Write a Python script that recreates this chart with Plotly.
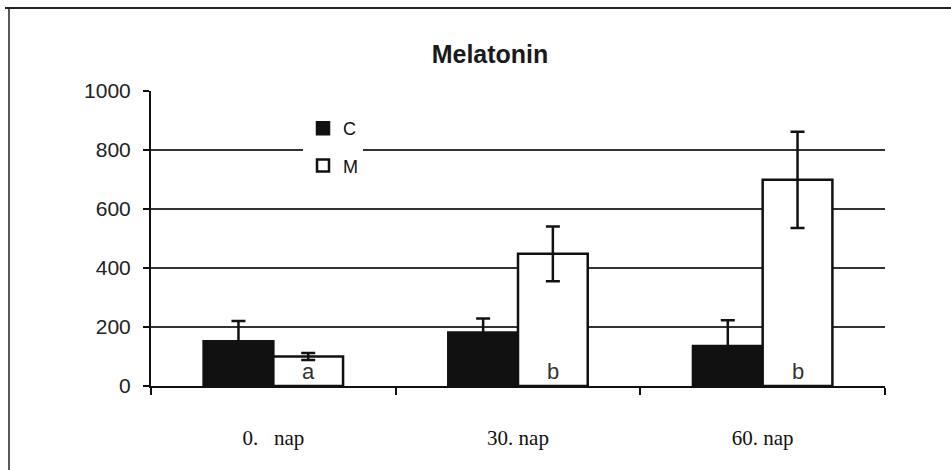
import plotly.graph_objects as go

# Melatonin levels by day, control (C) vs. treated (M)
days = ["0.\u00a0\u00a0\u00a0nap", "30. nap", "60. nap"]
c_values = [152, 181, 136]
c_errors = [68, 48, 87]
m_values = [100, 448, 699]
m_errors = [12, 93, 163]
m_letters = ["a", "b", "b"]

INK = "#111111"

fig = go.Figure()

fig.add_trace(go.Bar(
    name="C", x=days, y=c_values,
    marker=dict(color=INK, line=dict(color=INK, width=2.5)),
    error_y=dict(type="data", array=c_errors, color=INK, thickness=2.5, width=7),
    legendgroup="c",
))
fig.add_trace(go.Bar(
    name="M", x=days, y=m_values,
    marker=dict(color="white", line=dict(color=INK, width=2.5)),
    error_y=dict(type="data", array=m_errors, color=INK, thickness=2.5, width=7),
    legendgroup="m",
))

# significance letters at the foot of the M bars
for day, letter in zip(days, m_letters):
    fig.add_annotation(
        x=day, y=0, xref="x", yref="y", text=letter, showarrow=False,
        xshift=35, yanchor="bottom", yshift=0,
        font=dict(family="Arial, Liberation Sans, sans-serif", size=22, color="#333333"),
    )

# outer frame: top and left rules
fig.add_shape(type="line", xref="paper", yref="paper",
              x0=(5 - 151) / 734, x1=(951 - 151) / 734,
              y0=(386 - 8) / 295, y1=(386 - 8) / 295,
              line=dict(color="#222222", width=2))
fig.add_shape(type="line", xref="paper", yref="paper",
              x0=(9 - 151) / 734, x1=(9 - 151) / 734,
              y0=(386 - 8) / 295, y1=(386 - 475) / 295,
              line=dict(color="#222222", width=1.5))

fig.update_layout(
    width=951, height=470,
    margin=dict(l=151, r=66, t=91, b=84),
    paper_bgcolor="white", plot_bgcolor="white",
    barmode="group", bargap=0.43, bargroupgap=0,
    title=dict(text="<b>Melatonin</b>", xref="container", yref="container",
               x=490 / 951, xanchor="center", y=1 - 54 / 470, yanchor="middle",
               font=dict(family="Arial, Liberation Sans, sans-serif", size=25, color="#1a1a1a")),
    legend=dict(x=(303 - 151) / 734, y=(386 - 110) / 295, xanchor="left", yanchor="top",
                bgcolor="white", borderwidth=0, tracegroupgap=11,
                font=dict(family="Arial, Liberation Sans, sans-serif", size=18, color=INK),
                itemwidth=30),
    xaxis=dict(
        type="category", showline=True, linecolor=INK, linewidth=2,
        ticks="outside", ticklen=7, tickwidth=2, tickcolor=INK,
        tickson="boundaries", showgrid=False, ticklabelstandoff=32,
        tickfont=dict(family="Times New Roman, Liberation Serif, serif", size=21, color=INK),
    ),
    yaxis=dict(
        range=[0, 1000], dtick=200, showline=True, linecolor=INK, linewidth=2,
        ticks="outside", ticklen=6, tickwidth=2, tickcolor=INK,
        showgrid=True, gridcolor="#333333", gridwidth=1.5, zeroline=False,
        ticklabelstandoff=8,
        tickfont=dict(family="Arial, Liberation Sans, sans-serif", size=21, color="#222222"),
    ),
    showlegend=True,
)

fig.write_html("out.html")
